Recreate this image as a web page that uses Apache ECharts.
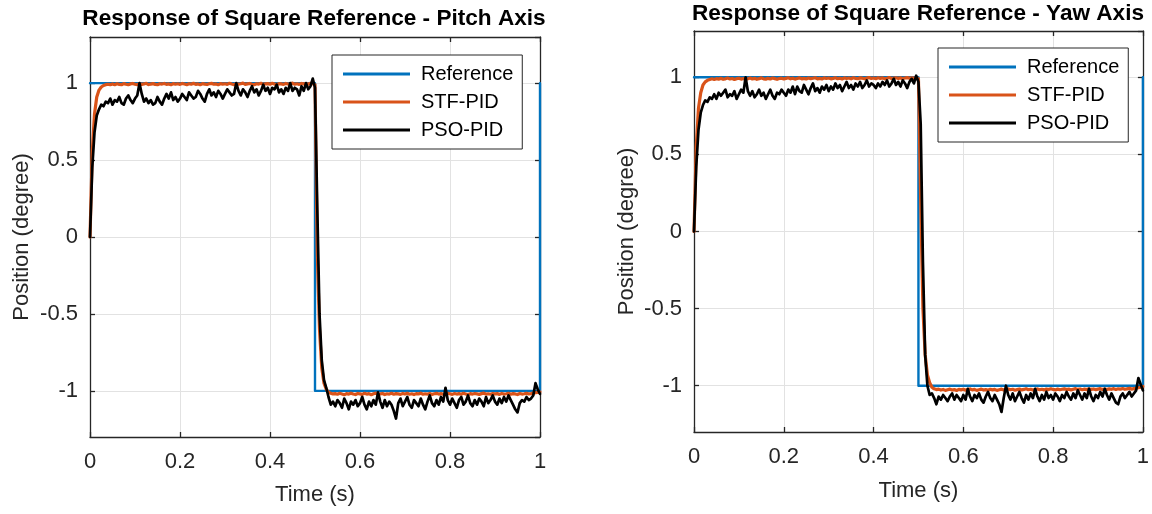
<!DOCTYPE html>
<html>
<head>
<meta charset="utf-8">
<script src="https://cdn.jsdelivr.net/npm/echarts@6/dist/echarts.min.js"></script>
<style>
html,body{margin:0;padding:0;background:#fff;}
#chart{width:1152px;height:514px;}
</style>
</head>
<body>
<div id="chart"></div>
<script>
// ---------------- DATA ----------------
const titles = ['Response of Square Reference - Pitch Axis', 'Response of Square Reference - Yaw Axis'];
const seriesNames = ['Reference', 'STF-PID', 'PSO-PID'];
const xTicks = [0, 0.2, 0.4, 0.6, 0.8, 1];
const yRange = [-1.3, 1.3];
const sampleStep = 0.005; // seconds between samples of the responses

// Square reference (time, value)
const refTime = [0, 0.5, 0.5, 1, 1];
const refValue = [1, 1, -1, -1, 1];

// Pitch axis responses (one value every 5 ms, t = 0 ... 1 s)
const stfPitch = [
  0, 0.55, 0.80, 0.91, 0.955, 0.975, 0.985, 0.99, 0.993, 0.99, 0.995, 0.99, 0.996, 0.992, 0.99, 0.997, 0.993, 0.99, 0.995, 0.998,
  0.993, 0.99, 0.996, 0.992, 0.995, 0.999, 0.991, 0.994, 0.997, 0.992, 0.99, 0.996, 0.994, 0.998, 0.992, 0.995, 0.99, 0.997, 0.993, 0.996,
  0.992, 0.998, 0.994, 0.99, 0.996, 0.993, 0.999, 0.992, 0.995, 0.99, 0.997, 0.994, 0.991, 0.996, 0.999, 0.993, 0.995, 0.99, 0.997, 0.994,
  0.996, 0.992, 0.999, 0.994, 0.99, 0.997, 0.993, 0.996, 1.0, 0.992, 0.995, 0.998, 0.993, 0.99, 0.996, 0.994, 0.999, 0.992, 0.995, 0.997,
  0.993, 0.999, 0.994, 0.991, 0.997, 0.995, 0.992, 0.998, 0.994, 0.996, 1.0, 0.993, 0.996, 0.992, 0.998, 0.995, 0.997, 0.993, 0.999, 0.996,
  0.99, -0.1, -0.6, -0.85, -0.95, -0.99, -1.01, -1.015, -1.02, -1.018, -1.022, -1.016, -1.02, -1.025, -1.018, -1.021, -1.015, -1.02, -1.024, -1.017,
  -1.02, -1.023, -1.016, -1.021, -1.018, -1.025, -1.019, -1.015, -1.022, -1.02, -1.017, -1.024, -1.019, -1.021, -1.016, -1.022, -1.018, -1.02, -1.023, -1.017,
  -1.021, -1.016, -1.022, -1.019, -1.024, -1.018, -1.02, -1.015, -1.022, -1.019, -1.021, -1.017, -1.023, -1.019, -1.016, -1.021, -1.018, -1.022, -1.02, -1.016,
  -1.019, -1.023, -1.017, -1.021, -1.018, -1.022, -1.016, -1.02, -1.024, -1.018, -1.021, -1.017, -1.02, -1.023, -1.018, -1.015, -1.021, -1.019, -1.022, -1.017,
  -1.02, -1.018, -1.023, -1.017, -1.021, -1.019, -1.016, -1.022, -1.018, -1.02, -1.024, -1.017, -1.021, -1.019, -1.016, -1.02, -1.018, -1.015, -1.012, -1.01,
  -1.008
];
const psoPitch = [
  0, 0.45, 0.68, 0.79, 0.83, 0.86, 0.85, 0.88, 0.87, 0.9, 0.86, 0.89, 0.88, 0.91, 0.87, 0.86, 0.9, 0.92, 0.89, 0.87,
  0.9, 0.92, 1.0, 0.93, 0.88, 0.9, 0.87, 0.89, 0.86, 0.87, 0.91, 0.88, 0.86, 0.9, 0.93, 0.9, 0.94, 0.89, 0.91, 0.88,
  0.9, 0.93, 0.91, 0.89, 0.94, 0.92, 0.9, 0.91, 0.95, 0.93, 0.9, 0.88, 0.93, 0.96, 0.92, 0.94, 0.91, 0.95, 0.93, 0.9,
  0.93, 0.96, 0.94, 0.92, 0.93, 1.0, 0.95, 0.92, 0.96, 0.94, 0.91, 0.95, 0.98, 0.94, 0.96, 0.92, 0.95, 0.99, 0.95, 0.97,
  0.93, 0.97, 0.96, 0.99, 0.94, 0.96, 0.93, 0.97, 0.95, 1.0, 0.95, 0.97, 0.96, 0.92, 0.98, 0.95, 1.0, 0.96, 0.98, 1.03,
  0.97, 0.2, -0.5, -0.8, -0.93, -0.98, -1.04, -1.09, -1.07, -1.1, -1.06, -1.08, -1.11, -1.05, -1.08, -1.12, -1.07, -1.09, -1.06, -1.1,
  -1.08, -1.04, -1.09, -1.12, -1.07, -1.1, -1.06, -1.09, -1.01, -1.07, -1.11, -1.06, -1.1, -1.07, -1.09, -1.13, -1.18, -1.08, -1.05, -1.1,
  -1.07, -1.04, -1.09, -1.11, -1.06, -1.08, -1.1, -1.05, -1.09, -1.12, -1.07, -1.03, -1.08, -1.1, -1.06, -1.09, -1.04, -1.07, -0.98, -1.06,
  -1.09, -1.05, -1.08, -1.11, -1.06, -1.04, -1.09, -1.07, -1.03, -1.08, -1.1, -1.06, -1.09, -1.05, -1.07, -1.1, -1.04, -1.08, -1.06, -1.03,
  -1.07, -1.09, -1.05, -1.08, -1.04, -1.07, -1.03, -1.06, -1.09, -1.12, -1.14, -1.08, -1.06, -1.07, -1.04, -1.06, -1.05, -1.03, -0.95, -0.99,
  -1.02
];

// Yaw axis responses
const stfYaw = [
  0, 0.55, 0.80, 0.90, 0.95, 0.97, 0.98, 0.985, 0.99, 0.986, 0.991, 0.988, 0.993, 0.987, 0.99, 0.995, 0.989, 0.992, 0.986, 0.991,
  0.994, 0.988, 0.992, 0.986, 0.99, 0.995, 0.989, 0.993, 0.987, 0.991, 0.996, 0.99, 0.988, 0.993, 0.989, 0.995, 0.991, 0.987, 0.992, 0.994,
  0.989, 0.993, 0.997, 0.99, 0.994, 0.988, 0.992, 0.996, 0.99, 0.993, 0.989, 0.995, 0.991, 0.994, 0.997, 0.99, 0.993, 0.989, 0.996, 0.992,
  0.995, 0.99, 0.993, 0.997, 0.991, 0.994, 0.989, 0.996, 0.992, 0.995, 0.99, 0.997, 0.993, 0.991, 0.996, 0.994, 0.99, 0.995, 0.998, 0.992,
  0.995, 0.991, 0.997, 0.993, 0.996, 0.99, 0.994, 0.998, 0.992, 0.995, 0.997, 0.993, 0.996, 0.991, 0.995, 0.998, 0.993, 0.996, 0.994, 0.997,
  0.99, 0.2, -0.5, -0.8, -0.93, -0.98, -1.01, -1.02, -1.025, -1.022, -1.028, -1.024, -1.03, -1.026, -1.022, -1.028, -1.025, -1.031, -1.024, -1.027,
  -1.023, -1.029, -1.025, -1.021, -1.027, -1.024, -1.03, -1.026, -1.022, -1.028, -1.025, -1.029, -1.023, -1.027, -1.024, -1.03, -1.026, -1.022, -1.028, -1.025,
  -1.021, -1.026, -1.023, -1.029, -1.025, -1.022, -1.027, -1.024, -1.02, -1.026, -1.023, -1.028, -1.024, -1.021, -1.026, -1.023, -1.027, -1.022, -1.025, -1.02,
  -1.024, -1.027, -1.022, -1.026, -1.023, -1.02, -1.025, -1.022, -1.027, -1.023, -1.019, -1.024, -1.021, -1.026, -1.022, -1.025, -1.02, -1.024, -1.021, -1.025,
  -1.022, -1.019, -1.024, -1.021, -1.025, -1.02, -1.023, -1.019, -1.024, -1.02, -1.022, -1.018, -1.023, -1.02, -1.017, -1.022, -1.019, -1.016, -1.013, -1.01,
  -1.005
];
const psoYaw = [
  0, 0.42, 0.66, 0.77, 0.82, 0.85, 0.84, 0.87, 0.86, 0.89, 0.86, 0.9, 0.88, 0.9, 0.92, 0.87, 0.89, 0.88, 0.91, 0.86,
  0.89, 0.92, 0.9, 1.0, 0.91, 0.88, 0.91, 0.87, 0.89, 0.92, 0.88, 0.9, 0.86, 0.89, 0.92, 0.88, 0.86, 0.9, 0.89, 0.92,
  0.9, 0.88, 0.92, 0.9, 0.94, 0.89, 0.94, 0.91, 0.9, 0.95, 0.92, 0.89, 0.93, 0.96, 0.91, 0.93, 0.9, 0.94, 0.92, 0.95,
  0.91, 0.94, 0.92, 0.96, 0.93, 0.95, 0.91, 0.94, 0.97, 0.93, 0.95, 0.92, 0.96, 0.94, 0.97, 0.93, 0.95, 0.98, 0.94, 0.96,
  0.95, 0.93, 0.96, 0.94, 0.97, 0.95, 0.98, 0.94, 0.96, 0.99, 0.95, 0.97, 0.94, 0.98, 0.96, 0.93, 0.97, 0.99, 0.96, 1.01,
  0.97, 0.7, -0.2, -0.8, -1.0, -1.06, -1.05, -1.08, -1.12, -1.07, -1.09, -1.06, -1.08, -1.1, -1.07, -1.05, -1.09, -1.06, -1.08, -1.1,
  -1.06, -1.09, -1.02, -1.07, -1.1, -1.06, -1.08, -1.05, -1.09, -1.11, -1.07, -1.04, -1.08, -1.1, -1.06, -1.09, -1.12, -1.17, -1.08, -1.0,
  -1.06, -1.09, -1.05, -1.1, -1.07, -1.04, -1.08, -1.11, -1.06, -1.09, -1.05, -1.08, -1.02, -1.07, -1.1, -1.06, -1.09, -1.04, -1.08, -1.06,
  -1.09, -1.05, -1.07, -1.1, -1.06, -1.08, -1.04, -1.07, -1.09, -1.05, -1.08, -1.03, -1.06, -1.09, -1.05, -1.08, -1.02, -1.07, -1.1, -1.06,
  -1.08, -1.04, -1.07, -1.02, -1.06, -1.09, -1.05, -1.08, -1.11, -1.12, -1.07, -1.05, -1.08, -1.06, -1.04, -1.07, -1.05, -1.03, -0.95, -0.99,
  -1.03
];

// ---------------- CHART ----------------
const FONT = '"Liberation Sans", Arial, Helvetica, sans-serif';
const AX = '#262626';
const COLORS = ['#0072BD', '#D95319', '#000000'];

function pairs(values) {
  return values.map((v, i) => [Math.round(i * sampleStep * 1000) / 1000, v]);
}
const refPairs = refTime.map((t, i) => [t, refValue[i]]);

const grids = [
  {left: 90, top: 37, width: 450, height: 400},
  {left: 694, top: 31, width: 453, height: 401}
];
const titlePos = [{x: 314, y: 7}, {x: 918, y: 2}];
const legendPos = [{left: 332, top: 55}, {left: 938, top: 48}];
const yNameGap = [57, 56];
const xNameGap = [47, 48];

const option = {
  animation: false,
  backgroundColor: '#ffffff',
  textStyle: {fontFamily: FONT},
  title: titles.map((t, k) => ({
    text: t, left: titlePos[k].x, top: titlePos[k].y, textAlign: 'center', padding: 0,
    textStyle: {fontFamily: FONT, fontSize: 22.6, fontWeight: 'bold', color: '#000'}
  })),
  legend: legendPos.map(p => ({
    data: seriesNames, orient: 'vertical', left: p.left, top: p.top,
    icon: 'rect', itemWidth: 67, itemHeight: 3, itemGap: 8,
    padding: [9, 9, 9, 11],
    backgroundColor: '#ffffff', borderColor: AX, borderWidth: 1, borderRadius: 0,
    selectedMode: false,
    textStyle: {fontFamily: FONT, fontSize: 20, lineHeight: 20, color: '#000', padding: [0, 0, 0, 6]}
  })),
  grid: grids.map(g => Object.assign({containLabel: false}, g)),
  xAxis: [],
  yAxis: [],
  series: []
};

grids.forEach((g, k) => {
  // bottom x axis
  option.xAxis.push({
    type: 'value', gridIndex: k, min: 0, max: 1, interval: 0.2, position: 'bottom',
    name: 'Time (s)', nameLocation: 'middle', nameGap: xNameGap[k],
    nameTextStyle: {fontFamily: FONT, fontSize: 22, color: AX},
    axisLine: {show: true, onZero: false, lineStyle: {color: AX, width: 1.3}},
    axisTick: {show: true, inside: true, length: 5, lineStyle: {color: AX, width: 1.3}},
    axisLabel: {fontFamily: FONT, fontSize: 22, color: AX, margin: 14,
      formatter: v => xTicks.indexOf(Math.round(v * 10) / 10) >= 0 ? String(Math.round(v * 10) / 10) : ''},
    splitLine: {show: true, lineStyle: {color: '#e2e2e2', width: 1}}
  });
  // top x axis (box + ticks)
  option.xAxis.push({
    type: 'value', gridIndex: k, min: 0, max: 1, interval: 0.2, position: 'top',
    axisLine: {show: true, onZero: false, lineStyle: {color: AX, width: 1.3}},
    axisTick: {show: true, inside: true, length: 5, lineStyle: {color: AX, width: 1.3}},
    axisLabel: {show: false}, splitLine: {show: false}
  });
  // left y axis
  option.yAxis.push({
    type: 'value', gridIndex: k, min: yRange[0], max: yRange[1], splitNumber: 5, position: 'left',
    name: 'Position (degree)', nameLocation: 'middle', nameGap: yNameGap[k],
    nameTextStyle: {fontFamily: FONT, fontSize: 22, color: AX},
    axisLine: {show: true, onZero: false, lineStyle: {color: AX, width: 1.3}},
    axisTick: {show: true, inside: true, length: 5, lineStyle: {color: AX, width: 1.3}},
    axisLabel: {fontFamily: FONT, fontSize: 22, color: AX, margin: 12, showMinLabel: false, showMaxLabel: false},
    splitLine: {show: true, lineStyle: {color: '#e2e2e2', width: 1}}
  });
  // right y axis (box + ticks)
  option.yAxis.push({
    type: 'value', gridIndex: k, min: yRange[0], max: yRange[1], splitNumber: 5, position: 'right',
    axisLine: {show: true, onZero: false, lineStyle: {color: AX, width: 1.3}},
    axisTick: {show: true, inside: true, length: 5, lineStyle: {color: AX, width: 1.3}},
    axisLabel: {show: false}, splitLine: {show: false}
  });
});

const plotData = [
  [refPairs, pairs(stfPitch), pairs(psoPitch)],
  [refPairs, pairs(stfYaw), pairs(psoYaw)]
];
const widths = [2.4, 3.2, 2.7];
plotData.forEach((set, k) => {
  set.forEach((d, s) => {
    option.series.push({
      type: 'line', name: seriesNames[s], xAxisIndex: k * 2, yAxisIndex: k * 2,
      data: d, showSymbol: false, symbol: 'none', smooth: false,
      color: COLORS[s],
      lineStyle: {color: COLORS[s], width: widths[s], join: 'round', cap: 'round'},
      z: 2 + s
    });
  });
});

const chart = echarts.init(document.getElementById('chart'), null, {renderer: 'canvas'});
chart.setOption(option);
</script>
</body>
</html>
